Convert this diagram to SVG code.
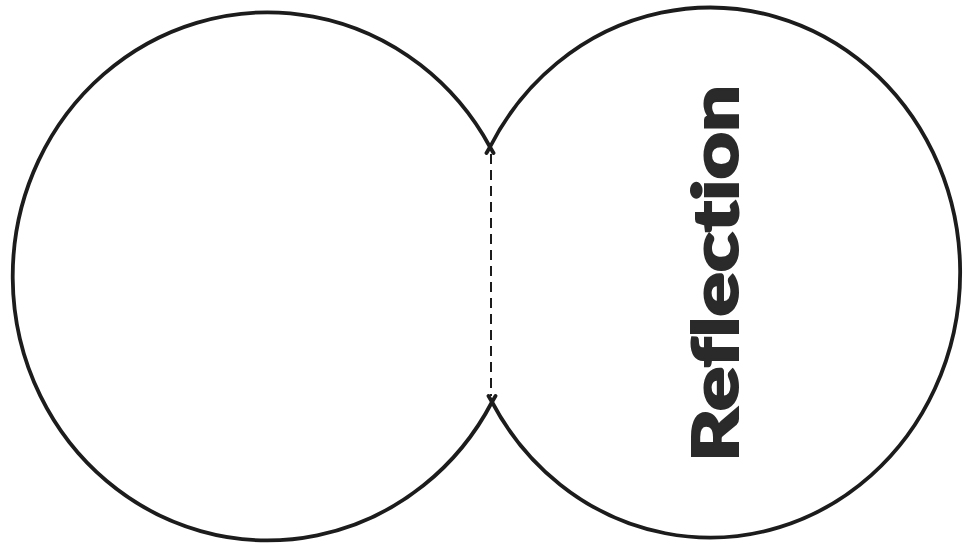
<svg xmlns="http://www.w3.org/2000/svg" width="966" height="544" viewBox="0 0 966 544">
<style>
.arc{fill:none;stroke:#1c1c1c;stroke-width:3.8;stroke-linecap:round}
.dash{fill:none;stroke:#1c1c1c;stroke-width:2;stroke-dasharray:10 6}
.lbl{font-family:"Lato","DejaVu Sans",sans-serif;font-weight:900;font-size:62px;fill:#2a2a2a;stroke:#2a2a2a;stroke-width:2;font-variant-ligatures:none;font-feature-settings:"liga" 0}
</style>
<rect width="966" height="544" fill="#ffffff"/>
<g id="left-circle">
<path class="arc" d="M490,147 A255 264 0 1 0 492,402"/>
<path class="arc" d="M490,147 L493.5,153 M492,402 L495.5,396"/>
</g>
<g id="right-circle">
<path class="arc" d="M490,147 A250 265 0 1 1 492,402"/>
<path class="arc" d="M490,147 L486.5,153 M492,402 L488.5,396"/>
<text class="lbl" transform="translate(738,462) rotate(-90)" x="0" y="0" textLength="377" lengthAdjust="spacingAndGlyphs">Reflection</text>
</g>
<g id="connectors">
<path class="dash" d="M491,154 L491,396"/>
</g>
</svg>
